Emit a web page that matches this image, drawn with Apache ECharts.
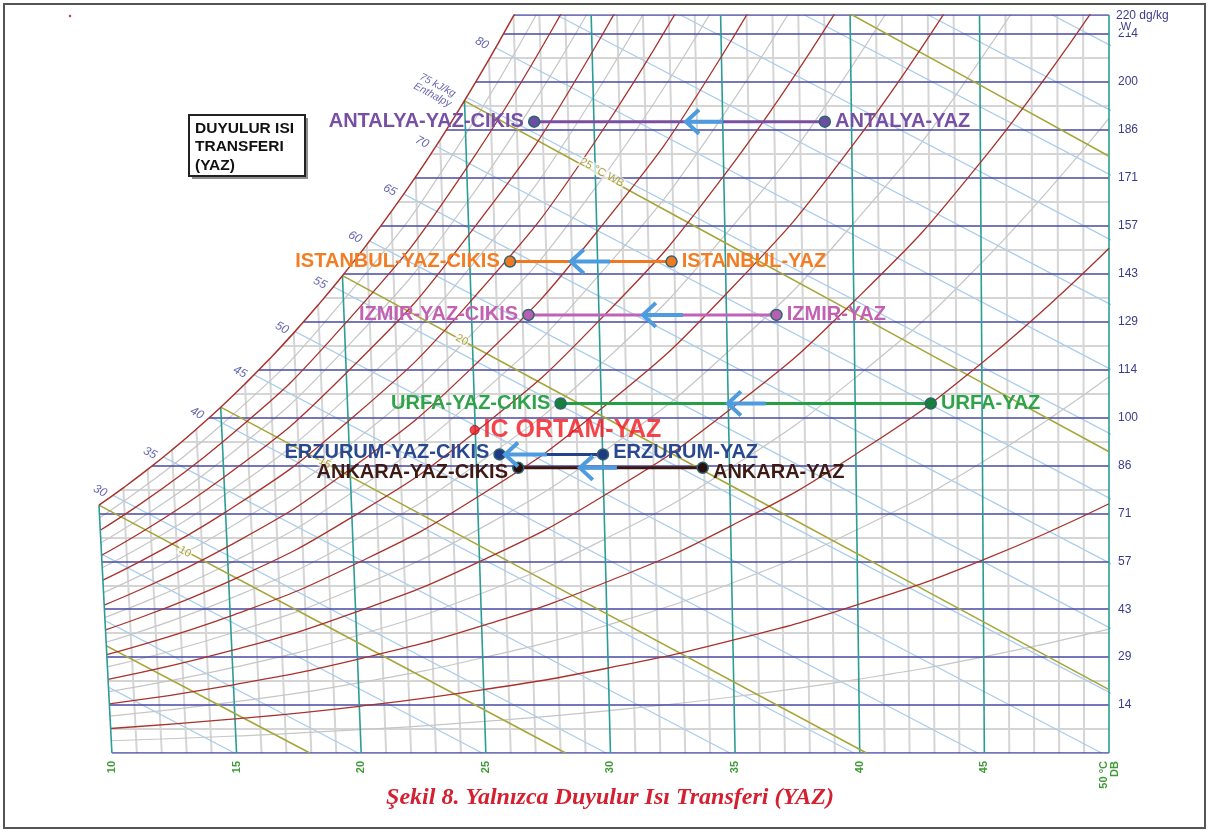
<!DOCTYPE html>
<html><head><meta charset="utf-8">
<script src="https://cdn.jsdelivr.net/npm/echarts@6/dist/echarts.min.js"></script>
<style>html,body{margin:0;padding:0;background:#fff;}#c{width:1209px;height:832px;}</style>
</head><body><div id="c"></div>
<script>
// ===== DATA =====
// bottom-axis dry-bulb ticks and right-axis humidity ratio ticks (dg/kg)
const dbTickValues = [10, 15, 20, 25, 30, 35, 40, 45, 50];
const wMajor = [0, 14.29, 28.57, 42.86, 57.14, 71.43, 85.71, 100, 114.29, 128.57, 142.86, 157.14, 171.43, 185.71, 200, 214.29, 220];
const wHalf = [7.14, 21.43, 35.71, 50, 64.29, 78.57, 92.86, 107.14, 121.43, 135.71, 150, 164.29, 178.57, 192.86, 207.14];

// city states: summer outdoor (YAZ) and exit (CIKIS) dry bulb, humidity ratio
const cities = ['ANTALYA', 'ISTANBUL', 'IZMIR', 'URFA', 'ERZURUM', 'ANKARA'];
const yazDB = [38.6, 32.45, 36.66, 42.85, 29.7, 33.7];
const cikisDB = [26.94, 25.97, 26.71, 28.0, 25.55, 26.3];
const cityW = [188.2, 146.5, 130.6, 104.2, 89.0, 85.0];
const arrowTip = [33.03, 28.41, 31.30, 34.71, 25.77, 28.77];
const arrowTail = [34.51, 29.98, 32.91, 36.23, 27.45, 30.26];
const icName = 'IC ORTAM-YAZ';
const icPoint = [24.55, 96.3];

// dry-bulb lines: [value at W=0, position at W=220]
const dbGray = [[11,9.490],[12,10.529],[13,11.567],[14,12.606],[16,14.683],[17,15.722],[18,16.761],[19,17.800],[21,19.877],[22,20.916],[23,21.954],[24,22.993],[26,25.071],[27,26.109],[28,27.148],[29,28.187],[31,30.264],[32,31.303],[33,32.342],[34,33.380],[36,35.458],[37,36.497],[38,37.535],[39,38.574],[41,40.652],[42,41.690],[43,42.729],[44,43.768],[46,45.845],[47,46.884],[48,47.923],[49,48.961]];
const dbTeal = [[15,13.645],[20,18.838],[25,24.032],[30,29.226],[35,34.419],[40,39.613],[45,44.806],[50,50]];
const db10 = [[10,0],[9.48,73.88]];

// enthalpy lines (kJ/kg 15..105): [position at W=0, position at W=220]
const enthalpyLines = [[14.911,-41.739],[19.881,-36.769],[24.851,-31.799],[29.821,-26.829],[34.791,-21.859],[39.761,-16.889],[44.732,-11.918],[49.702,-6.948],[54.672,-1.978],[59.642,2.992],[64.612,7.962],[69.583,12.933],[74.553,17.903],[79.523,22.873],[84.493,27.843],[89.463,32.813],[94.433,37.783],[99.404,42.754],[104.374,47.724]];
const enthalpyLabelText = ['30','35','40','45','50','55','60','65','70','75 kJ/kg\nEnthalpy','80'];
const enthalpyLabelPos = [[9.52,78.1],[11.53,89.4],[13.41,101.3],[15.14,113.6],[16.82,126.7],[18.35,140.1],[19.75,153.8],[21.15,167.8],[22.44,182.1],[22.96,197.6],[24.84,211.6]];

// wet-bulb lines 5..30 °C
const wb05 = [[8.74,36.0],[13.9,15.8],[17.94,0]];
const wb10 = [[9.48,73.88],[18.80,37.1],[28.2,0]];
const wb15 = [[14.365,103.1],[26.78,53.7],[40.27,0]];
const wb20 = [[19.249,142.3],[26.54,113.0],[34.79,79.9],[42.94,47.2],[50,18.9]];
const wb25 = [[24.144,194.4],[29.39,173.2],[34.60,152.1],[39.77,131.2],[44.90,110.4],[50,89.8]];
const wb30 = [[37.52,228.9],[44.83,199.1],[50,177.9]];
const wbLabelText = ['10','15','20','25 °C WB'];
const wbLabelPos = [[12.93,60.0],[18.54,86.4],[24.04,123.1],[29.66,173.0]];

// saturation curve
const satCurve = [[9.480,73.88],[10.457,79.05],[11.435,84.53],[12.412,90.36],[13.388,96.54],[14.365,103.09],[15.341,110.05],[16.318,117.43],[17.295,125.24],[18.271,133.53],[19.249,142.29],[20.226,151.55],[21.205,161.37],[22.184,171.77],[23.164,182.77],[24.144,194.44],[25.127,206.75],[26.110,219.76],[26.603,226.5]];

// relative humidity curves
const rh10 = [[9.949,7.31],[14.937,10.15],[19.926,13.93],[24.917,18.90],[29.911,25.34],[34.911,33.64],[39.922,44.21],[44.949,57.56],[50,74.30]];
const rh20 = [[9.897,14.63],[14.875,20.34],[19.853,27.93],[24.833,37.91],[29.821,50.90],[34.821,67.65],[39.843,89.07],[44.898,116.24],[50,150.47]];
const rh30 = [[9.845,21.97],[14.812,30.56],[19.778,41.99],[24.749,57.04],[29.730,76.67],[34.731,102.05],[39.763,134.60],[44.845,176.06],[50,228.56]];
const rh40 = [[9.793,29.34],[14.749,40.82],[19.704,56.12],[24.664,76.30],[29.639,102.67],[34.639,136.84],[39.682,180.81],[44.791,237.05]];
const rh50 = [[9.742,36.71],[14.685,51.11],[19.629,70.31],[24.579,95.68],[29.546,128.88],[34.546,172.03],[39.599,227.72]];
const rh60 = [[9.689,44.11],[14.622,61.43],[19.553,84.57],[24.493,115.18],[29.453,155.32],[34.452,207.62],[39.515,275.35]];
const rh70 = [[9.637,51.53],[14.558,71.80],[19.478,98.90],[24.407,134.80],[29.359,181.99],[34.357,243.62]];
const rh80 = [[9.585,58.96],[14.494,82.19],[19.402,113.29],[24.320,154.56],[29.265,208.89],[34.261,280.04]];
const rh90 = [[9.532,66.41],[14.429,92.62],[19.325,127.76],[24.233,174.43],[29.169,236.03]];
const rh05 = [[9.974,3.65],[14.969,5.07],[19.963,6.96],[24.958,9.43],[29.955,12.65],[34.956,16.77],[39.961,22.02],[44.975,28.65],[50,36.93]];
const rh15 = [[9.923,10.97],[14.906,15.24],[19.890,20.92],[24.875,28.39],[29.866,38.09],[34.866,50.60],[39.883,66.56],[44.924,86.76],[50,112.15]];
const rh25 = [[9.871,18.30],[14.843,25.45],[19.815,34.95],[24.791,47.46],[29.776,63.76],[34.776,84.80],[39.803,111.75],[44.872,146.00],[50,189.27]];
const rh35 = [[9.819,25.65],[14.780,35.69],[19.741,49.05],[24.707,66.66],[29.684,89.64],[34.685,119.39],[39.723,157.62],[44.818,206.40],[50,268.35]];
const rh45 = [[9.768,33.02],[14.717,45.96],[19.666,63.21],[24.622,85.97],[29.593,115.75],[34.592,154.38],[39.641,204.18],[44.764,268.0]];
const rh55 = [[9.716,40.41],[14.653,56.27],[19.591,77.43],[24.536,105.41],[29.500,142.07],[34.499,189.77],[39.557,251.44]];
const rh65 = [[9.663,47.82],[14.590,66.61],[19.516,91.73],[24.450,124.97],[29.406,168.63],[34.404,225.57]];
const rh75 = [[9.611,55.24],[14.526,76.99],[19.440,106.09],[24.363,144.66],[29.312,195.41],[34.309,261.78]];
const rh85 = [[9.559,62.68],[14.462,87.41],[19.364,120.52],[24.276,164.48],[29.217,222.43]];
const rh95 = [[9.506,70.14],[14.397,97.85],[19.287,135.01],[24.189,184.42],[29.121,249.68]];

// ===== STYLE =====
const lineColors = ['#7a4fa3', '#f07820', '#c063b6', '#22a043', '#22428a', '#3a1712'];
const labelColors = ['#7750a5', '#f47c22', '#c260b2', '#2ea348', '#2a4890', '#3d1a14'];
const dotColors = ['#6b4fa0', '#f07a22', '#b860b0', '#17803a', '#1e3a80', '#2a0f0c'];
const labelShift = [[0,0],[0,0],[0,0],[0,0],[0,-2],[0,5]];
const SANS = '"Liberation Sans", Arial, Helvetica, sans-serif';

const series = [];
const segs = (arr) => arr.map(d => ({coords: [[d[0], 0], [d[1], 220]]}));
const hsegs = (arr) => arr.map(w => ({coords: [[9, w], [50, w]]}));
function lines(data, color, width, z, poly) {
  return {type: 'lines', coordinateSystem: 'cartesian2d', polyline: !!poly, z: z, silent: true, clip: true,
    data: data, lineStyle: {color: color, width: width, opacity: 1, curveness: 0}, animation: false};
}
function curve(data, color, width, z) {
  return {type: 'line', data: data, z: z, smooth: 0.5, showSymbol: false, symbol: 'none',
    silent: true, clip: true, lineStyle: {color: color, width: width}, animation: false};
}

series.push(lines(segs(dbGray).concat(hsegs(wHalf)), '#d5d5d5', 2, 1));
series.push(lines(segs(enthalpyLines), '#a9cdec', 1.3, 2));
[rh05, rh15, rh25, rh35, rh45, rh55, rh65, rh75, rh85, rh95].forEach(c => series.push(curve(c, '#c6c6c6', 1.2, 2)));
series.push(lines(hsegs(wMajor), '#4848a4', 1.7, 3));
series.push(lines(segs(dbTeal), '#2a9d96', 1.6, 3));
series.push(lines([wb05, wb10, wb15, wb20, wb25, wb30].map(c => ({coords: c})), '#a6a63a', 1.6, 3, true));
[rh10, rh20, rh30, rh40, rh50, rh60, rh70, rh80, rh90].forEach(c => series.push(curve(c, '#a8322c', 1.3, 3)));

// white mask above the saturation curve (and left of the 10 °C line)
const maskPoly = [[8, -1], [10.007, -1]].concat(satCurve.slice(0, -1)).concat([[26.19, 221], [8, 221]]);
series.push({type: 'custom', z: 4, clip: false, silent: true, data: [[9, 0]], animation: false,
  renderItem: (params, api) => ({type: 'polygon', shape: {points: maskPoly.map(p => api.coord(p))}, style: {fill: '#ffffff'}})});

series.push(curve(satCurve, '#a8322c', 1.5, 5));
series.push(lines([{coords: db10}], '#2a9d96', 1.6, 5));

// enthalpy labels
series.push({type: 'scatter', z: 5, clip: false, silent: true, symbolSize: 0, animation: false,
  data: enthalpyLabelPos.map((p, i) => ({value: p, label: {formatter: enthalpyLabelText[i], fontSize: i === 9 ? 10.5 : 12, lineHeight: 11}})),
  label: {show: true, position: 'inside', rotate: -28, color: '#3d3d9e', fontStyle: 'italic', fontFamily: SANS}});
// wet bulb labels
series.push({type: 'scatter', z: 5, clip: false, silent: true, symbolSize: 0, animation: false,
  data: wbLabelPos.map((p, i) => ({value: p, label: {formatter: wbLabelText[i]}})),
  label: {show: true, position: 'inside', rotate: -29, color: '#978d12', fontSize: 11, fontFamily: SANS,
    backgroundColor: 'rgba(255,255,255,0.85)', padding: [0, 1]}});

// city processes
cities.forEach((c, i) => {
  series.push({type: 'line', z: 6, clip: false, silent: true, animation: false,
    symbol: 'circle', symbolSize: 11, showSymbol: true,
    lineStyle: {color: lineColors[i], width: 3},
    itemStyle: {color: dotColors[i], borderColor: '#2f6472', borderWidth: 1.5},
    label: {show: true, color: labelColors[i], fontSize: 20, fontWeight: 'bold', fontFamily: SANS, distance: 4, offset: labelShift[i]},
    data: [
      {value: [cikisDB[i], cityW[i]], label: {position: 'left', formatter: c + '-YAZ-CIKIS'}},
      {value: [yazDB[i], cityW[i]], label: {position: 'right', formatter: c + '-YAZ'}}
    ]});
});
series.push({type: 'scatter', z: 6, clip: false, silent: true, animation: false, symbolSize: 9,
  itemStyle: {color: '#f01a22', borderColor: '#b01010', borderWidth: 1},
  data: [{value: icPoint}],
  label: {show: true, position: 'right', distance: 4, formatter: icName, color: '#f2161e', fontSize: 25, fontWeight: 'bold', fontFamily: SANS}});

// arrows
series.push({type: 'custom', z: 7, clip: false, silent: true, animation: false,
  data: cities.map((c, i) => [arrowTip[i], arrowTail[i], cityW[i]]),
  encode: {x: [0, 1], y: 2},
  renderItem: (params, api) => {
    const tip = api.coord([api.value(0), api.value(2)]);
    const tail = api.coord([api.value(1), api.value(2)]);
    const st = {stroke: '#4c9cdf', lineWidth: 4, fill: 'none'};
    return {type: 'group', children: [
      {type: 'line', shape: {x1: tip[0] + 2, y1: tip[1], x2: tail[0], y2: tail[1]}, style: st},
      {type: 'polyline', shape: {points: [[tip[0] + 13, tip[1] - 12], [tip[0], tip[1]], [tip[0] + 13, tip[1] + 12]]}, style: st}
    ]};
  }});

const chart = echarts.init(document.getElementById('c'), null, {renderer: 'canvas', width: 1209, height: 832});
chart.setOption({
  animation: false,
  backgroundColor: '#ffffff',
  grid: {left: 87, right: 100, top: 15, bottom: 79, containLabel: false},
  xAxis: {type: 'value', min: 9, max: 50, interval: 1,
    axisLine: {show: false}, axisTick: {show: false}, splitLine: {show: false},
    axisLabel: {customValues: dbTickValues, rotate: 90, color: '#3f9a38', fontSize: 11, fontWeight: 'bold', fontFamily: SANS, margin: 8,
      formatter: v => dbTickValues.indexOf(v) < 0 ? '' : (v === 50 ? '50 °C\nDB' : String(v))}},
  yAxis: {type: 'value', position: 'right', min: 0, max: 220, interval: 100 / 7,
    axisLine: {show: false}, axisTick: {show: false}, splitLine: {show: false},
    axisLabel: {color: '#3b3b8c', fontSize: 12, fontFamily: SANS, margin: 9,
      formatter: v => (v < 1 || v > 219) ? '' : String(Math.round(v))}},
  graphic: [
    {type: 'rect', silent: true, z: 100, shape: {x: 4, y: 4, width: 1201, height: 824}, style: {fill: 'none', stroke: '#555', lineWidth: 2}},
    {type: 'circle', silent: true, z: 100, shape: {cx: 70, cy: 16, r: 1.2}, style: {fill: '#c33'}},
    {type: 'rect', silent: true, z: 100, shape: {x: 192, y: 118, width: 116, height: 61}, style: {fill: '#8e8e8e'}},
    {type: 'rect', silent: true, z: 101, shape: {x: 189, y: 115, width: 116, height: 61}, style: {fill: '#fff', stroke: '#222', lineWidth: 2}},
    {type: 'text', silent: true, z: 102, x: 195, y: 119, style: {text: 'DUYULUR ISI\nTRANSFERI\n(YAZ)', font: 'bold 15.5px ' + SANS, fill: '#111', lineHeight: 18.5}},
    {type: 'text', silent: true, z: 100, x: 1116, y: 16, style: {text: '220 dg/kg', font: '12px ' + SANS, fill: '#3b3b8c', verticalAlign: 'middle'}},
    {type: 'text', silent: true, z: 100, x: 1126, y: 27, style: {text: 'W', font: '11px ' + SANS, fill: '#3b3b8c', align: 'center', verticalAlign: 'middle', backgroundColor: '#fff'}},
    {type: 'text', silent: true, z: 100, x: 610, y: 798, style: {text: 'Şekil 8. Yalnızca Duyulur Isı Transferi (YAZ)', font: 'italic bold 24px "Liberation Serif", "Times New Roman", serif', fill: '#d42030', align: 'center', verticalAlign: 'middle'}}
  ],
  series: series
});
</script></body></html>
